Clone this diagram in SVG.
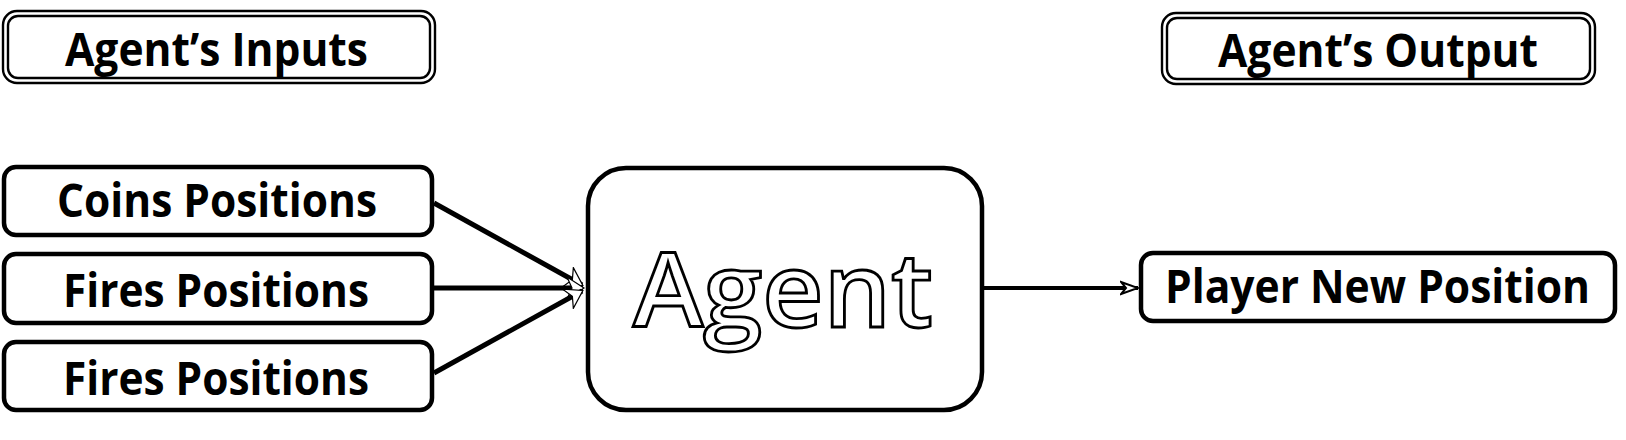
<svg xmlns="http://www.w3.org/2000/svg" width="1626" height="440" viewBox="0 0 1626 440">
<style>
.bg{fill:#fff}
.box{fill:#fff;stroke:#000;stroke-width:4.5}
.dbl{fill:none;stroke:#000;stroke-width:2.4}
.lbl{font-family:"Open Sans","Noto Sans","DejaVu Sans",sans-serif;font-weight:bold;font-size:46px;fill:#000}
.big{font-family:"Open Sans","Noto Sans","DejaVu Sans",sans-serif;font-weight:600;font-size:104px;fill:#fff;stroke:#000;stroke-width:2.8}
.conn{stroke:#000;stroke-width:5;fill:none}
.conn2{stroke:#000;stroke-width:4;fill:none}
</style>
<defs>
<marker id="arrIn" markerUnits="userSpaceOnUse" markerWidth="22" markerHeight="24" refX="17" refY="12" orient="auto" viewBox="0 0 22 24">
<path d="M1,1 L18,12 L1,23 L6,12 z" fill="#fff" stroke="#000" stroke-width="1.2"/>
</marker>
<marker id="arrOut" markerUnits="userSpaceOnUse" markerWidth="20" markerHeight="16" refX="18" refY="8" orient="auto" viewBox="0 0 20 16">
<path d="M1,2 L18,8 L1,14 L6,8 z" fill="#fff" stroke="#000" stroke-width="2"/>
</marker>
</defs>
<rect class="bg" x="0" y="0" width="1626" height="440"/>

<g id="inputs-header">
<rect class="dbl" x="3" y="11" width="432" height="72" rx="14"/>
<rect class="dbl" x="8" y="16" width="422" height="62" rx="10"/>
<text class="lbl" x="65" y="66" textLength="303" lengthAdjust="spacingAndGlyphs">Agent’s Inputs</text>
</g>

<g id="output-header">
<rect class="dbl" x="1162" y="13" width="433" height="71" rx="14"/>
<rect class="dbl" x="1167" y="18" width="423" height="61" rx="10"/>
<text class="lbl" x="1218" y="67" textLength="320" lengthAdjust="spacingAndGlyphs">Agent’s Output</text>
</g>

<g id="connectors">
<line class="conn" x1="434" y1="203" x2="582" y2="285" marker-end="url(#arrIn)"/>
<line class="conn" x1="434" y1="288" x2="583" y2="288" marker-end="url(#arrIn)"/>
<line class="conn" x1="434" y1="373" x2="582" y2="291" marker-end="url(#arrIn)"/>
<line class="conn2" x1="984" y1="288" x2="1138" y2="288" marker-end="url(#arrOut)"/>
</g>

<g id="coins-positions">
<rect class="box" x="4" y="167" width="428" height="68" rx="12"/>
<text class="lbl" x="57" y="217" textLength="320" lengthAdjust="spacingAndGlyphs">Coins Positions</text>
</g>

<g id="fires-positions-1">
<rect class="box" x="4" y="254" width="428" height="69" rx="12"/>
<text class="lbl" x="63" y="307" textLength="306" lengthAdjust="spacingAndGlyphs">Fires Positions</text>
</g>

<g id="fires-positions-2">
<rect class="box" x="4" y="342" width="428" height="68" rx="12"/>
<text class="lbl" x="63" y="395" textLength="306" lengthAdjust="spacingAndGlyphs">Fires Positions</text>
</g>

<g id="agent">
<rect class="box" x="588" y="168" width="394" height="242" rx="38"/>
<text class="big" x="633" y="327" textLength="300" lengthAdjust="spacingAndGlyphs">Agent</text>
</g>

<g id="player-new-position">
<rect class="box" x="1141" y="253" width="474" height="68" rx="12"/>
<text class="lbl" x="1165" y="303" textLength="425" lengthAdjust="spacingAndGlyphs">Player New Position</text>
</g>
</svg>
